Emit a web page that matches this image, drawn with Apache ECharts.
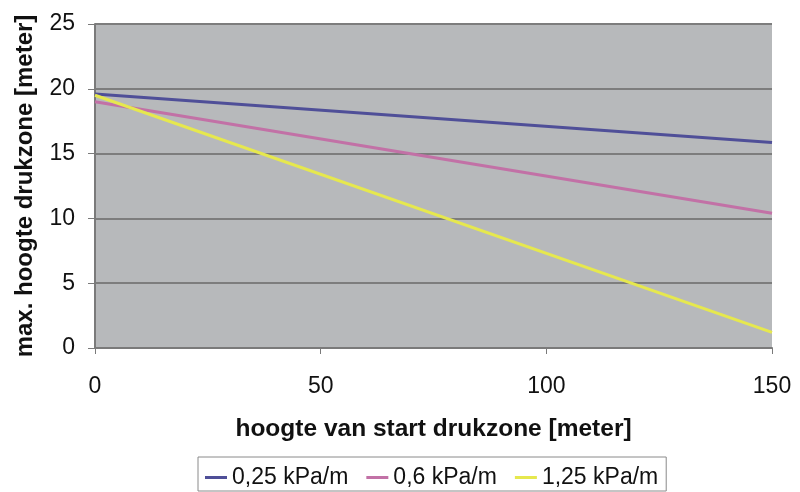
<!DOCTYPE html>
<html lang="nl">
<head>
    <meta charset="UTF-8">
    <title>max. hoogte drukzone</title>
    <script src="https://cdn.jsdelivr.net/npm/echarts@6/dist/echarts.min.js"></script>
    <style>
        html, body {margin: 0;padding: 0;background: #fff}
        #chart {width: 800px;height: 492px}
    </style>
</head>
<body>
<div id="chart"></div>
<script>
    // hoogte van start drukzone [meter]
    var startHeights = [0, 150]
    // max. hoogte drukzone [meter] per drukgradient
    var blueValues = [19.6, 15.85]
    var pinkValues = [19.0, 10.4]
    var yellowValues = [19.5, 1.2]
    var seriesNames = ['0,25 kPa/m', '0,6 kPa/m', '1,25 kPa/m']
    var seriesColors = ['#4f4f98', '#c271a6', '#e6e84e']

    function pairs(values) {
        return startHeights.map(function (x, i) { return [x, values[i]] })
    }

    var myChart = echarts.init(document.getElementById('chart'))

    var option = {
        animation: false,
        textStyle: {fontFamily: 'Liberation Sans, Arial, sans-serif'},
        grid: {
            left: 95,
            right: 28,
            top: 24,
            bottom: 144,
            outerBoundsMode: 'none',
            containLabel: false,
            show: true,
            backgroundColor: '#b7b9bb',
            borderWidth: 0
        },
        legend: {
            data: seriesNames,
            left: 198,
            top: 457,
            itemGap: 18,
            itemWidth: 22,
            itemHeight: 3,
            icon: 'rect',
            padding: [9, 8, 2, 7],
            borderColor: '#8a8a8a',
            borderWidth: 1,
            textStyle: {fontSize: 23, lineHeight: 23, color: '#111'}
        },
        xAxis: {
            type: 'value',
            min: 0,
            max: 150,
            interval: 50,
            name: 'hoogte van start drukzone [meter]',
            nameLocation: 'middle',
            nameGap: 69,
            nameTextStyle: {fontSize: 24.5, fontWeight: 'bold', color: '#111'},
            axisLine: {show: true, lineStyle: {color: '#7a7a7a', width: 2}},
            axisTick: {show: true, length: 6, lineStyle: {color: '#7a7a7a'}},
            axisLabel: {fontSize: 23, color: '#111', margin: 27},
            splitLine: {show: false}
        },
        yAxis: {
            type: 'value',
            min: 0,
            max: 25,
            interval: 5,
            name: 'max. hoogte drukzone [meter]',
            nameLocation: 'middle',
            nameGap: 58,
            nameTextStyle: {fontSize: 24, fontWeight: 'bold', color: '#111'},
            axisLine: {show: true, lineStyle: {color: '#7a7a7a', width: 2}},
            axisTick: {show: true, length: 7, lineStyle: {color: '#7a7a7a'}},
            axisLabel: {fontSize: 23, color: '#111', margin: 20},
            splitLine: {show: true, lineStyle: {color: '#7d7d7d', width: 2}}
        },
        series: [
            {name: seriesNames[0], type: 'line', data: pairs(blueValues), symbol: 'none',
                lineStyle: {width: 3, color: seriesColors[0]}, itemStyle: {color: seriesColors[0]}},
            {name: seriesNames[1], type: 'line', data: pairs(pinkValues), symbol: 'none',
                lineStyle: {width: 3, color: seriesColors[1]}, itemStyle: {color: seriesColors[1]}},
            {name: seriesNames[2], type: 'line', data: pairs(yellowValues), symbol: 'none',
                lineStyle: {width: 3, color: seriesColors[2]}, itemStyle: {color: seriesColors[2]}}
        ]
    }

    myChart.setOption(option)
</script>
</body>
</html>
